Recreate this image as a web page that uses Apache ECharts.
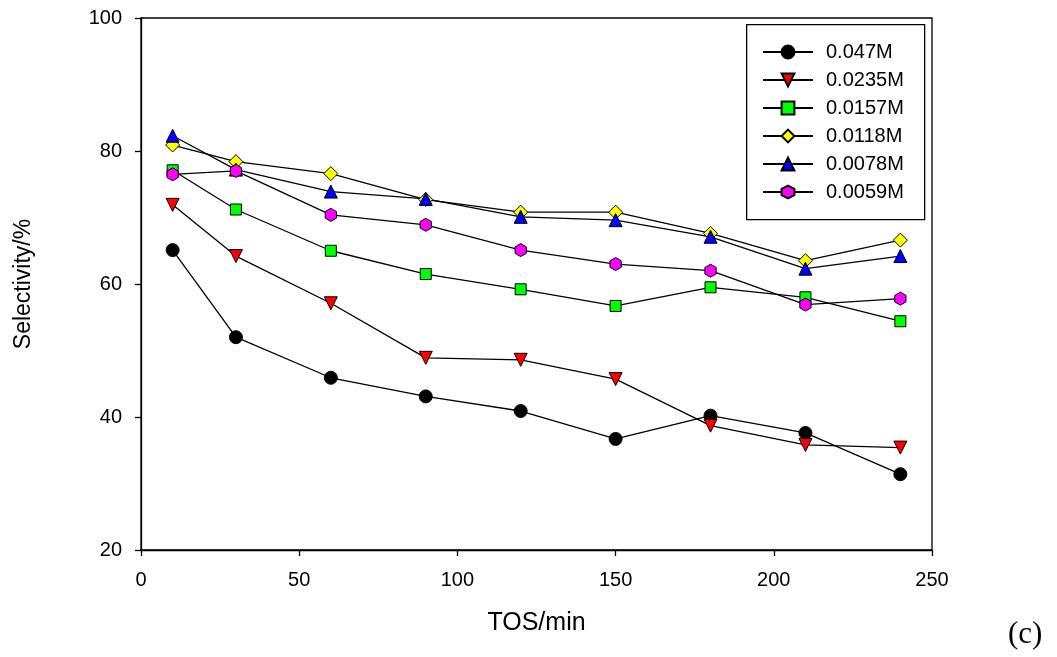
<!DOCTYPE html>
<html>
<head>
<meta charset="utf-8">
<script src="https://cdn.jsdelivr.net/npm/echarts@6/dist/echarts.min.js"></script>
<style>html,body{margin:0;padding:0;background:#fff;}#c{width:1057px;height:657px;}</style>
</head>
<body>
<div id="c"></div>
<script>
var tos = [10, 30, 60, 90, 120, 150, 180, 210, 240];
var s0470 = [65.1, 52.0, 45.9, 43.1, 40.9, 36.7, 40.2, 37.6, 31.4];
var s0235 = [71.9, 64.2, 57.1, 48.9, 48.6, 45.7, 38.7, 35.8, 35.4];
var s0157 = [77.1, 71.2, 65.0, 61.5, 59.2, 56.7, 59.5, 58.0, 54.4];
var s0118 = [80.9, 78.4, 76.6, 72.7, 70.8, 70.8, 67.6, 63.5, 66.6];
var s0078 = [82.3, 77.2, 73.9, 72.8, 70.1, 69.6, 67.1, 62.3, 64.2];
var s0059 = [76.5, 77.0, 70.4, 68.9, 65.1, 63.0, 62.0, 56.9, 57.8];
var names = ['0.047M', '0.0235M', '0.0157M', '0.0118M', '0.0078M', '0.0059M'];
var xTicks = [0, 50, 100, 150, 200, 250];
var yTicks = [20, 40, 60, 80, 100];

var hex = 'path://M50,0 L93.3,25 L93.3,75 L50,100 L6.7,75 L6.7,25 Z';
var styles = [
  {symbol: 'circle', size: 13, color: '#000000', rot: 0},
  {symbol: 'triangle', size: 13, color: '#ff0000', rot: 180},
  {symbol: 'rect', size: 11, color: '#00ff00', rot: 0},
  {symbol: 'diamond', size: 14, color: '#ffff00', rot: 0},
  {symbol: 'triangle', size: 13, color: '#0000ff', rot: 0},
  {symbol: hex, size: 13, color: '#ff00ff', rot: 0}
];
var data = [s0470, s0235, s0157, s0118, s0078, s0059];

var series = data.map(function (arr, i) {
  var st = styles[i];
  return {
    name: names[i],
    type: 'line',
    data: tos.map(function (t, k) { return [t, arr[k]]; }),
    symbol: st.symbol,
    symbolSize: st.size,
    symbolRotate: st.rot,
    symbolKeepAspect: true,
    showAllSymbol: true,
    lineStyle: {color: '#000', width: 1.3},
    itemStyle: {color: st.color, borderColor: '#000', borderWidth: 1},
    emphasis: {disabled: true},
    animation: false
  };
});

var chart = echarts.init(document.getElementById('c'));
chart.setOption({
  backgroundColor: '#fff',
  animation: false,
  grid: {left: 141, top: 18, right: 125, bottom: 107, show: true, borderColor: '#000', borderWidth: 1.3, backgroundColor: 'transparent'},
  xAxis: {
    type: 'value', min: xTicks[0], max: xTicks[xTicks.length - 1], interval: 50,
    name: 'TOS/min', nameLocation: 'middle', nameGap: 61,
    nameTextStyle: {fontFamily: 'Liberation Sans', fontSize: 25, color: '#000'},
    axisLine: {show: true, lineStyle: {color: '#000', width: 1.3}},
    axisTick: {show: true, inside: false, length: 6, lineStyle: {color: '#000', width: 1.3}},
    axisLabel: {color: '#000', fontFamily: 'Liberation Sans', fontSize: 20, margin: 20},
    splitLine: {show: false}
  },
  yAxis: {
    type: 'value', min: yTicks[0], max: yTicks[yTicks.length - 1], interval: 20,
    name: 'Selectivity/%', nameLocation: 'middle', nameGap: 106,
    nameTextStyle: {fontFamily: 'Liberation Sans', fontSize: 23, color: '#000'},
    axisLine: {show: true, lineStyle: {color: '#000', width: 1.3}},
    axisTick: {show: true, inside: false, length: 6, lineStyle: {color: '#000', width: 1.3}},
    axisLabel: {color: '#000', fontFamily: 'Liberation Sans', fontSize: 20, margin: 19},
    splitLine: {show: false}
  },
  legend: {
    data: names,
    orient: 'vertical',
    left: 762, top: 42,
    itemWidth: 50, itemHeight: 16,
    itemGap: 8,
    padding: 0,
    textStyle: {fontFamily: 'Liberation Sans', fontSize: 20, lineHeight: 20, color: '#000', padding: [0, 0, 0, 8]},
    selectedMode: false
  },
  graphic: [
    {type: 'rect', left: 746, top: 24, shape: {width: 178, height: 195}, style: {fill: 'transparent', stroke: '#000', lineWidth: 1.3}, z: 10},
    {type: 'text', left: 1008, top: 619, style: {text: '(c)', fontFamily: 'Liberation Serif', fontSize: 31, fill: '#000'}}
  ],
  series: series
});
</script>
</body>
</html>
